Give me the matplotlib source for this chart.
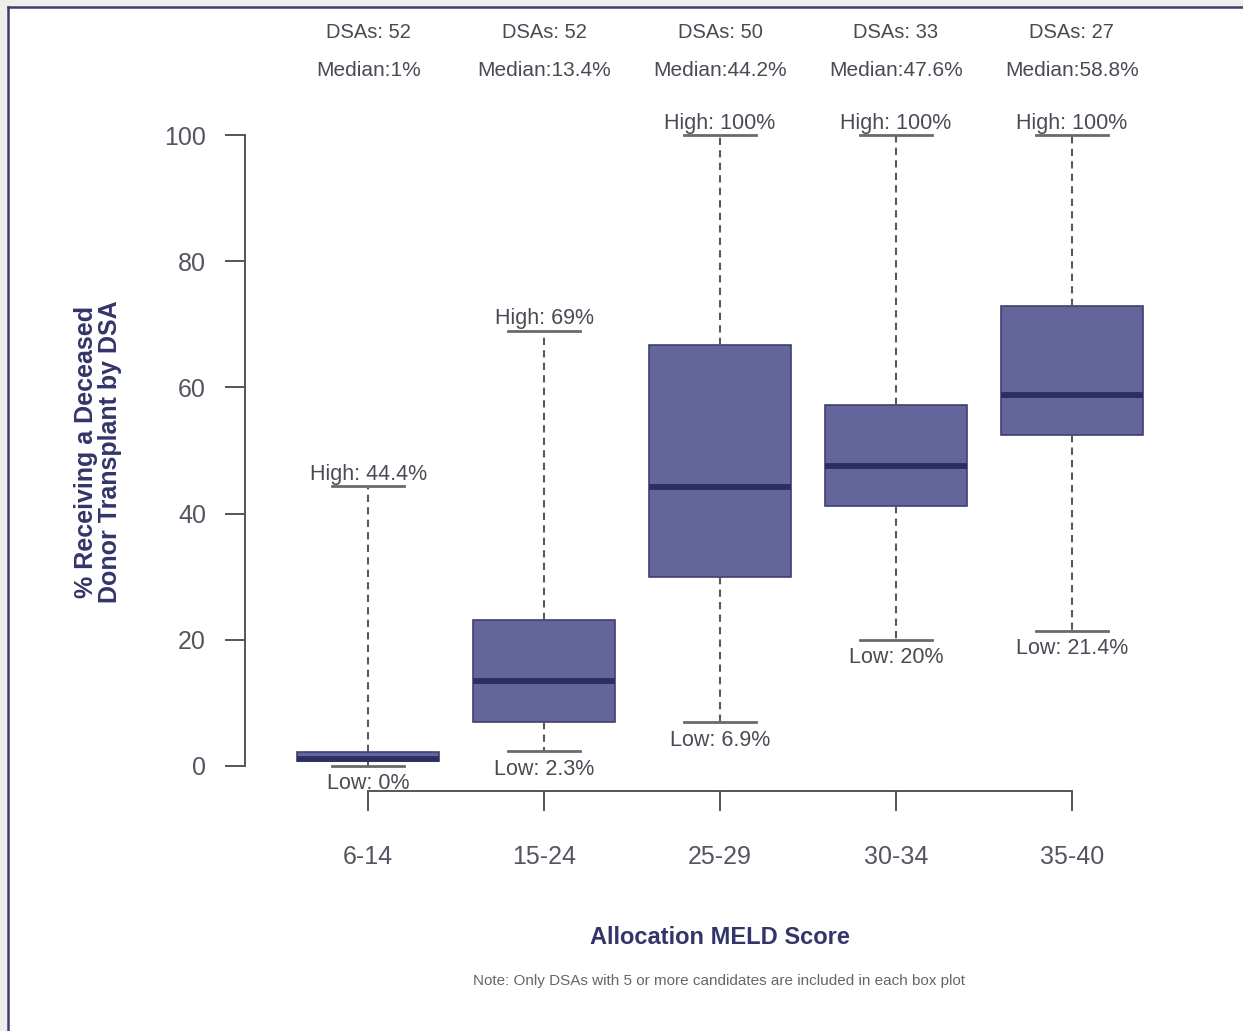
import matplotlib
matplotlib.use("Agg")
import matplotlib.pyplot as plt
from matplotlib.patches import Rectangle
from matplotlib.lines import Line2D
from matplotlib.transforms import blended_transform_factory

plt.rcParams['font.family'] = ['Liberation Sans', 'DejaVu Sans']

# ---- data ----
categories = ['6-14', '15-24', '25-29', '30-34', '35-40']
dsas = [52, 52, 50, 33, 27]
medians = [1.0, 13.4, 44.2, 47.6, 58.8]
q1 = [0.8, 7.0, 30.0, 41.2, 52.5]
q3 = [2.2, 23.1, 66.7, 57.2, 72.9]
lows = [0.0, 2.3, 6.9, 20.0, 21.4]
highs = [44.4, 69.0, 100.0, 100.0, 100.0]
y_ticks = [0, 20, 40, 60, 80, 100]

W, H = 1243, 1031
fig = plt.figure(figsize=(W / 100, H / 100), dpi=100, facecolor='white')

# outer frame (grey margin + navy border lines)
fig.patches.append(Rectangle((0, 0), 7 / W, 1, transform=fig.transFigure,
                             facecolor='#eeeeea', edgecolor='none'))
fig.patches.append(Rectangle((0, 1 - 6 / H), 1, 6 / H, transform=fig.transFigure,
                             facecolor='#eeeeea', edgecolor='none'))
fig.lines.append(Line2D([8 / W, 8 / W], [0, 1 - 7 / H], transform=fig.transFigure,
                        color='#3b3d6e', lw=1.8))
fig.lines.append(Line2D([8 / W, 1], [1 - 7 / H, 1 - 7 / H], transform=fig.transFigure,
                        color='#3b3d6e', lw=1.8))

ax = fig.add_axes([245 / W, 1 - 791 / H, 950 / W, 681 / H])
ax.set_facecolor('none')

positions = list(range(1, len(categories) + 1))
stats = []
for i, c in enumerate(categories):
    stats.append(dict(label=c, med=medians[i], q1=q1[i], q3=q3[i],
                      whislo=lows[i], whishi=highs[i], fliers=[]))

ax.bxp(stats, positions=positions, widths=0.81, capwidths=0.41,
       patch_artist=True, showfliers=False,
       boxprops=dict(facecolor='#64659a', edgecolor='#3f4070', linewidth=1.2),
       medianprops=dict(color='#2c2d60', linewidth=4.2, solid_capstyle='butt'),
       whiskerprops=dict(color='#5a5a5a', linewidth=1.5, linestyle=(0, (3.5, 2.5))),
       capprops=dict(color='#6a6a6a', linewidth=2.0))

ax.set_xlim(0.3, 5.7)
ax.set_ylim(-4, 104)
ax.set_xticks(positions)
ax.set_xticklabels(categories)
ax.set_yticks(y_ticks)
ax.set_yticklabels([str(v) for v in y_ticks])

for s in ['top', 'right']:
    ax.spines[s].set_visible(False)
ax.spines['left'].set_bounds(0, 100)
ax.spines['bottom'].set_bounds(1, 5)
for s in ['left', 'bottom']:
    ax.spines[s].set_color('#555555')
    ax.spines[s].set_linewidth(1.4)
ax.tick_params(axis='both', length=14.5, width=1.4, color='#555555',
               labelsize=18, labelcolor='#555560')
ax.tick_params(axis='y', pad=13.5)
ax.tick_params(axis='x', pad=24.5)

txt_color = '#4a4a55'
# header labels
tr = blended_transform_factory(ax.transData, fig.transFigure)
for i, p in enumerate(positions):
    ax.text(p, 1 - 32 / H, f"DSAs: {dsas[i]}", transform=tr, ha='center', va='center',
            fontsize=14.5, color=txt_color)
    ax.text(p, 1 - 70 / H, f"Median:{medians[i]:g}%", transform=tr, ha='center',
            va='center', fontsize=15, color=txt_color)
    ax.annotate(f"High: {highs[i]:g}%", xy=(p, highs[i]), xytext=(0, 8.5),
                textcoords='offset points', ha='center', va='center',
                fontsize=15.5, color=txt_color)
    ax.annotate(f"Low: {lows[i]:g}%", xy=(p, lows[i]), xytext=(0, -13),
                textcoords='offset points', ha='center', va='center',
                fontsize=15.5, color=txt_color)

fig.text(720 / W, 1 - 938 / H, 'Allocation MELD Score', ha='center', va='center',
         fontsize=17, fontweight='bold', color='#33356a')
fig.text(98 / W, 1 - 452 / H, '% Receiving a Deceased\nDonor Transplant by DSA',
         ha='center', va='center', rotation=90, fontsize=18, fontweight='bold',
         color='#33356a', linespacing=0.98)
fig.text(719 / W, 1 - 981 / H,
         'Note: Only DSAs with 5 or more candidates are included in each box plot',
         ha='center', va='center', fontsize=11, color='#666666')

fig.savefig('out.png', dpi=100, facecolor=fig.get_facecolor())
